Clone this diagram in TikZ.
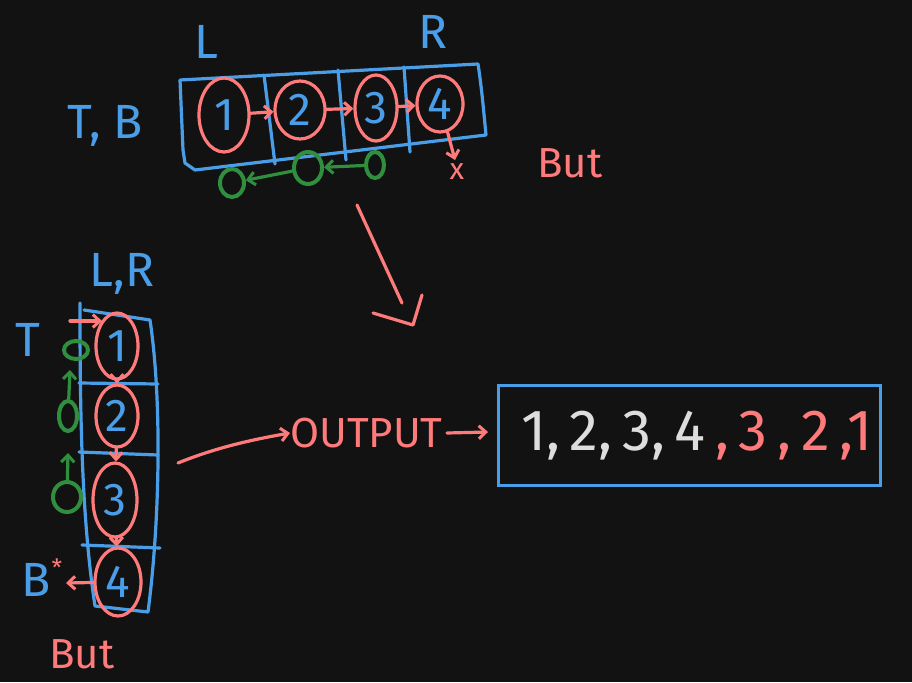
\documentclass[tikz,border=0pt]{standalone}
\usepackage{fontspec}
\setmainfont{Fira Sans}
\usetikzlibrary{shapes.geometric,arrows.meta}
\definecolor{bg}{HTML}{121212}
\definecolor{cblue}{HTML}{4A9EE8}
\definecolor{cred}{HTML}{FF7B7B}
\definecolor{cgreen}{HTML}{2F8F3F}
\definecolor{cwhite}{HTML}{DDDDDD}
\tikzset{
  pen/.style={line width=3.2pt,line cap=round,line join=round},
  bluepen/.style={pen,draw=cblue},
  redpen/.style={pen,draw=cred},
  greenpen/.style={pen,draw=cgreen},
  harr/.style={-{Straight Barb[length=7pt,width=13pt,line width=3pt]}},
  circ/.style={ellipse,draw=cred,line width=3.2pt,inner sep=0pt,text=cblue,font=\fontsize{46}{46}\selectfont},
  lbl/.style={font=\fontsize{48}{48}\selectfont,inner sep=0pt},
  gO/.style={ellipse,draw=cgreen,line width=4pt,inner sep=0pt},
}
\begin{document}
\begin{tikzpicture}[x=1pt,y=-1pt]
\fill[bg] (0,0) rectangle (912,682);
\useasboundingbox (0,0) rectangle (912,682);
% ---------- top array ----------
\draw[bluepen] (183,150) -- (180,80) -- (478,64) .. controls (482,90) and (484,115) .. (486,135) -- (195,170) -- (185,163) -- (183,150);
\draw[bluepen] (264,75) -- (275,164);
\draw[bluepen] (338,70) -- (346,160);
\draw[bluepen] (404,67) -- (410,152);
\node[circ,minimum width=50,minimum height=74] (a1) at (224,115) {1};
\node[circ,minimum width=50,minimum height=58] (a2) at (300,110) {2};
\node[circ,minimum width=42,minimum height=66] (a3) at (376,108) {3};
\node[circ,minimum width=46,minimum height=56] (a4) at (440,104) {4};
\draw[redpen,harr] (a1) -- (a2);
\draw[redpen,harr] (a2) -- (a3);
\draw[redpen,harr] (a3) -- (a4);
\coordinate (a4d) at (455,160);
\draw[redpen,harr] (a4) -- (a4d);
\node[lbl,text=cred,font=\fontsize{30}{30}\selectfont] (ax) at (457,172) {x};
\node[lbl,text=cblue] (L) at (206,42) {L};
\node[lbl,text=cblue] (R) at (433,32) {R};
\node[lbl,text=cblue] (TB) at (105,126) {T, B};
\node[lbl,text=cred,font=\fontsize{42}{42}\selectfont] (but1) at (570,163) {But};
% green zeros
\node[gO,minimum width=24,minimum height=28] (g1) at (232,183) {};
\node[gO,minimum width=28,minimum height=32] (g2) at (308,168) {};
\node[gO,minimum width=18,minimum height=26] (g3) at (375,165) {};
\draw[greenpen,harr] (g2) -- (g1);
\draw[greenpen,harr] (g3) -- (g2);
% big arrow down
\coordinate (d1) at (357,205);
\coordinate (d2) at (402,303);
\draw[redpen] (d1) -- (d2);
\draw[redpen] (373,313) -- (413,325) -- (422,295);
% ---------- left vertical array ----------
\draw[bluepen] (80,303) -- (80,310) .. controls (80,420) and (82,520) .. (95,606) -- (148,612) .. controls (160,520) and (162,400) .. (150,320) -- (84,310);
\draw[bluepen] (79,383) -- (158,384);
\draw[bluepen] (79,452) -- (158,455);
\draw[bluepen] (82,545) -- (160,548);
\node[circ,minimum width=42,minimum height=66] (b1) at (117,346) {1};
\node[circ,minimum width=42,minimum height=62] (b2) at (117,416) {2};
\node[circ,minimum width=44,minimum height=74] (b3) at (115,500) {3};
\node[circ,minimum width=46,minimum height=68] (b4) at (118,582) {4};
\draw[redpen,harr] (b1) -- (b2);
\draw[redpen,harr] (b2) -- (b3);
\draw[redpen,harr] (b3) -- (b4);
\coordinate (bin) at (70,321);
\draw[redpen,harr] (bin) -- (102,321);
\coordinate (bout) at (66,583);
\draw[redpen,harr] (b4) -- (bout);
\node[lbl,text=cblue] (T2) at (28,340) {T};
\node[lbl,text=cblue] (LR) at (122,274) {L,R};
\node[lbl,text=cblue] (B2) at (36,580) {B};
\node[lbl,text=cred,font=\fontsize{24}{24}\selectfont] (star) at (57,568) {*};
\node[lbl,text=cred,font=\fontsize{42}{42}\selectfont] (but2) at (82,654) {But};
\node[gO,minimum width=24,minimum height=18] (h1) at (76,350) {};
\node[gO,minimum width=18,minimum height=30] (h2) at (68,416) {};
\node[gO,minimum width=28,minimum height=30] (h3) at (67,497) {};
\coordinate (h2t) at (70,370);
\coordinate (h3t) at (68,453);
\draw[greenpen,harr] (h2) -- (h2t);
\draw[greenpen,harr] (h3) -- (h3t);
% ---------- output ----------
\node[lbl,text=cred,font=\fontsize{42}{42}\selectfont,anchor=west] (out) at (290,433) {OUTPUT};
\coordinate (ostart) at (178,463);
\draw[redpen,harr] (ostart) .. controls (215,448) and (250,440) .. (out.west);
\coordinate (oend) at (488,432);
\draw[redpen,harr] ([xshift=4pt]out.east) -- (oend);
\node[draw=cblue,line width=3.2pt,minimum width=382,minimum height=100,anchor=north west,inner sep=0pt] (box) at (497,384) {};
\node[lbl,anchor=center,font=\fontsize{58}{58}\selectfont] (seq) at (697,436) {\textcolor{cwhite}{1,\,2,\,3,\,4}\textcolor{cred}{\,,\,3\,,\,2\,,1}};
\end{tikzpicture}
\end{document}
